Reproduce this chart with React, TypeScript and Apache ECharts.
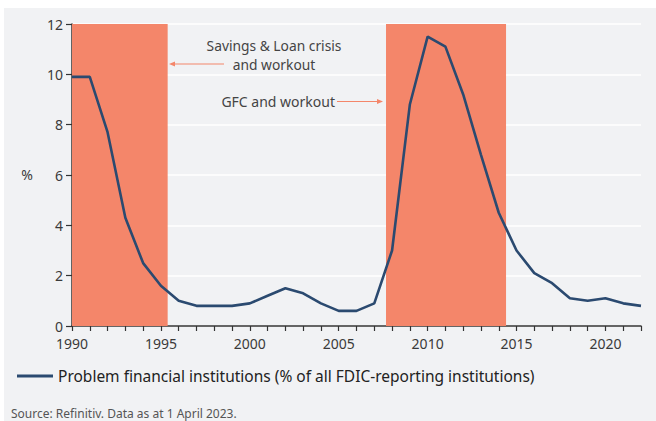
import React, { useEffect, useRef } from "react";
import * as echarts from "echarts";

const years = [
  1990, 1991, 1992, 1993, 1994, 1995, 1996, 1997, 1998, 1999, 2000, 2001,
  2002, 2003, 2004, 2005, 2006, 2007, 2008, 2009, 2010, 2011, 2012, 2013,
  2014, 2015, 2016, 2017, 2018, 2019, 2020, 2021, 2022,
];
const problemPct = [
  9.9, 9.9, 7.7, 4.3, 2.5, 1.6, 1.0, 0.8, 0.8, 0.8, 0.9, 1.2, 1.5, 1.3, 0.9,
  0.6, 0.6, 0.9, 3.0, 8.8, 11.5, 11.1, 9.2, 6.8, 4.5, 3.0, 2.1, 1.7, 1.1, 1.0,
  1.1, 0.9, 0.8,
];
const crisisPeriods = [
  [1990, 1995.38],
  [2007.66, 2014.41],
];
const seriesName =
  "Problem financial institutions (% of all FDIC-reporting institutions)";
const sourceText = "Source: Refinitiv. Data as at 1 April 2023.";
const annotation1Lines = ["Savings & Loan crisis", "and workout"];
const annotation2 = "GFC and workout";

const FONT = "'Noto Sans', sans-serif";
const SALMON = "#f4866a";
const NAVY = "#2b4a70";

export default function App() {
  const ref = useRef<HTMLDivElement>(null);
  useEffect(() => {
    if (!ref.current) return;
    const chart = echarts.init(ref.current, undefined, { renderer: "svg" });
    const lineData = years.map((y, i) => [y, problemPct[i]]);
    chart.setOption({
      animation: false,
      backgroundColor: "#ffffff",
      textStyle: { fontFamily: FONT },
      grid: {
        left: 72,
        right: 15,
        top: 24,
        bottom: 95,
        containLabel: false,
        outerBoundsMode: "none",
      },
      xAxis: {
        type: "value",
        min: 1990,
        max: 2022,
        interval: 1,
        axisLine: { show: true, onZero: false, lineStyle: { color: "#333", width: 1.5 } },
        axisTick: { show: true, length: 5, lineStyle: { color: "#333", width: 1.2 } },
        splitLine: { show: false },
        axisLabel: {
          color: "#3a3a3a",
          fontSize: 14,
          margin: 10,
          fontFamily: FONT,
          formatter: (v: number) => (v % 5 === 0 ? String(v) : ""),
        },
      },
      yAxis: {
        type: "value",
        min: 0,
        max: 12,
        interval: 2,
        axisLine: { show: true, lineStyle: { color: "#333", width: 1.5 } },
        axisTick: { show: true, length: 6, lineStyle: { color: "#333", width: 1.2 } },
        splitLine: { show: true, lineStyle: { color: "#ffffff", width: 1.5 } },
        axisLabel: { color: "#3a3a3a", fontSize: 14, margin: 9, fontFamily: FONT },
      },
      legend: {
        show: true,
        data: [seriesName],
        left: 17,
        top: 368,
        padding: 0,
        icon: "rect",
        itemWidth: 36,
        itemHeight: 3,
        textStyle: { color: "#222", fontSize: 15.5, fontFamily: FONT },
      },
      graphic: [
        {
          type: "rect",
          z: -100,
          silent: true,
          shape: { x: 4, y: 8, width: 652, height: 413 },
          style: { fill: "#f1f2f4" },
        },
        {
          type: "text",
          x: 274,
          y: 45.3,
          style: {
            text: annotation1Lines[0],
            fill: "#444",
            font: `13.8px ${FONT}`,
            align: "center",
            verticalAlign: "middle",
          },
        },
        {
          type: "text",
          x: 274,
          y: 64.3,
          style: {
            text: annotation1Lines[1],
            fill: "#444",
            font: `13.8px ${FONT}`,
            align: "center",
            verticalAlign: "middle",
          },
        },
        {
          type: "line",
          shape: { x1: 224, y1: 64, x2: 172, y2: 64 },
          style: { stroke: SALMON, lineWidth: 1.2 },
        },
        {
          type: "polygon",
          shape: { points: [[169, 64], [175, 61.5], [175, 66.5]] },
          style: { fill: SALMON },
        },
        {
          type: "text",
          x: 335,
          y: 101.5,
          style: {
            text: annotation2,
            fill: "#444",
            font: `14px ${FONT}`,
            align: "right",
            verticalAlign: "middle",
          },
        },
        {
          type: "line",
          shape: { x1: 337, y1: 101.5, x2: 380, y2: 101.5 },
          style: { stroke: SALMON, lineWidth: 1.2 },
        },
        {
          type: "polygon",
          shape: { points: [[383, 101.5], [377, 99], [377, 104]] },
          style: { fill: SALMON },
        },
        {
          type: "text",
          x: 27,
          y: 174,
          style: {
            text: "%",
            fill: "#3a3a3a",
            font: `14px ${FONT}`,
            align: "center",
            verticalAlign: "middle",
          },
        },
        {
          type: "text",
          x: 11,
          y: 413,
          style: {
            text: sourceText,
            fill: "#555",
            font: `12px ${FONT}`,
            align: "left",
            verticalAlign: "middle",
          },
        },
      ],
      series: [
        {
          type: "line",
          name: "shading",
          data: [],
          z: -1,
          silent: true,
          markArea: {
            silent: true,
            itemStyle: { color: SALMON, opacity: 1 },
            data: crisisPeriods.map((p) => [{ xAxis: p[0] }, { xAxis: p[1] }]),
          },
        },
        {
          type: "line",
          name: seriesName,
          data: lineData,
          showSymbol: false,
          symbol: "none",
          lineStyle: { color: NAVY, width: 2.6 },
          itemStyle: { color: NAVY },
          z: 5,
        },
      ],
    });
    return () => chart.dispose();
  }, []);
  return (
    <div
      ref={ref}
      style={{ position: "absolute", left: 0, top: 0, width: 656, height: 421 }}
    />
  );
}
